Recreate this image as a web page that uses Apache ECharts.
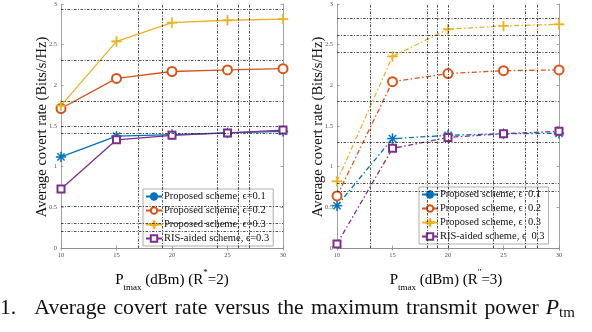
<!DOCTYPE html>
<html>
<head>
<meta charset="utf-8">
<script src="https://cdn.jsdelivr.net/npm/echarts@6/dist/echarts.min.js"></script>
<style>
html, body { margin: 0; padding: 0; background: #fff; }
#chart { width: 592px; height: 332px; }
</style>
</head>
<body>
<div id="chart"></div>
<script>
// transmit power levels (dBm)
const powerLevels = [10, 15, 20, 25, 30];

// left panel, R* = 2
const namesR2 = ['Proposed scheme, ϵ=0.1', 'Proposed scheme, ϵ=0.2', 'Proposed scheme, ϵ=0.3', 'RIS-aided scheme, ϵ=0.3'];
const rate01R2 = [1.12, 1.375, 1.395, 1.415, 1.435];
const rate02R2 = [1.715, 2.085, 2.17, 2.19, 2.205];
const rate03R2 = [1.75, 2.54, 2.77, 2.80, 2.815];
const rateRisR2 = [0.725, 1.33, 1.385, 1.415, 1.45];

// right panel, R** = 3
const namesR3 = ['Proposed scheme, ϵ  0.1', 'Proposed scheme, ϵ  0.2', 'Proposed scheme, ϵ  0.3', 'RIS-aided scheme, ϵ  0.3'];
const rate01R3 = [0.52, 1.345, 1.385, 1.405, 1.41];
const rate02R3 = [0.64, 2.045, 2.145, 2.18, 2.19];
const rate03R3 = [0.82, 2.355, 2.69, 2.73, 2.75];
const rateRisR3 = [0.05, 1.225, 1.36, 1.405, 1.435];

// the odd dotted grid lines of the original figure
const gridXR2 = [17, 19.1, 24.1, 26, 27];
const gridYR2 = [2.93, 2.31, 1.81, 1.5, 1.41, 0.51, 0.30, 0.20];
const gridXR3 = [13, 18.1, 19, 20.05, 24.05, 27, 28];
const gridYR3 = [2.82, 2.61, 2.41, 1.81, 1.30, 0.80, 0.70];

const colors = ['#0072BD', '#D95319', '#EDB120', '#7E2F8E'];
const serif = '"Liberation Serif", "DejaVu Serif", serif';

const asterisk = 'path://M-0.5,-5L0.5,-5L0.5,5L-0.5,5Z M-5,-0.5L5,-0.5L5,0.5L-5,0.5Z ' +
    'M-3.15,-3.85L3.85,3.15L3.15,3.85L-3.85,-3.15Z M-3.85,3.15L3.15,-3.85L3.85,-3.15L-3.15,3.85Z';
const plus = 'path://M-0.6,-5L0.6,-5L0.6,5L-0.6,5Z M-5,-0.6L5,-0.6L5,0.6L-5,0.6Z';
const symbols = [asterisk, 'emptyCircle', plus, 'emptyRect'];
const symbolSizes = [10, 9, 10, 7];
const symbolBorders = [0.5, 1.2, 0.6, 1.2];

const chart = echarts.init(document.getElementById('chart'));

function axesFor(gridIndex) {
    const boxLine = { show: true, lineStyle: { color: '#8c8c8c', width: 0.8 } };
    const tick = { show: true, inside: true, length: 2.5, lineStyle: { color: '#8c8c8c', width: 0.8 } };
    const label = { fontFamily: serif, fontSize: 6.5, color: '#555' };
    return {
        x: [
            { type: 'value', gridIndex, min: 10, max: 30, interval: 5, position: 'bottom',
              axisLine: boxLine, axisTick: tick, splitLine: { show: false },
              axisLabel: Object.assign({ margin: 4 }, label) },
            { type: 'value', gridIndex, min: 10, max: 30, interval: 5, position: 'top',
              axisLine: boxLine, axisTick: tick, splitLine: { show: false }, axisLabel: { show: false } }
        ],
        y: [
            { type: 'value', gridIndex, min: 0, max: 3, interval: 0.5, position: 'left',
              axisLine: boxLine, axisTick: tick, splitLine: { show: false },
              axisLabel: Object.assign({ margin: 4 }, label) },
            { type: 'value', gridIndex, min: 0, max: 3, interval: 0.5, position: 'right',
              axisLine: boxLine, axisTick: tick, splitLine: { show: false }, axisLabel: { show: false } }
        ]
    };
}

const axL = axesFor(0);
const axR = axesFor(1);

function gridSeries(axisIdx, xs, ys) {
    return {
        type: 'line', xAxisIndex: axisIdx, yAxisIndex: axisIdx, silent: true, z: 1,
        data: [[10, 0], [30, 0]], symbol: 'none', lineStyle: { opacity: 0 },
        markLine: {
            silent: true, symbol: ['none', 'none'], animation: false, label: { show: false },
            lineStyle: { color: '#222', width: 0.8, type: [2.5, 1.5, 1, 1.5] },
            data: xs.map(v => ({ xAxis: v })).concat(ys.map(v => ({ yAxis: v })))
        }
    };
}

function dataSeries(axisIdx, names, sets, dash) {
    return sets.map((vals, i) => ({
        name: names[i], type: 'line', xAxisIndex: axisIdx, yAxisIndex: axisIdx, z: 3,
        data: powerLevels.map((p, k) => [p, vals[k]]),
        symbol: symbols[i], symbolSize: symbolSizes[i], symbolKeepAspect: true,
        color: colors[i],
        itemStyle: { color: colors[i], borderColor: colors[i], borderWidth: symbolBorders[i] },
        lineStyle: { color: colors[i], width: 1.3, type: dash },
        animation: false
    }));
}

function legendFor(names, left, top) {
    return {
        data: names, orient: 'vertical', left, top,
        itemWidth: 16, itemHeight: 8, itemGap: 3, padding: [2, 4, 2, 2],
        backgroundColor: '#fff', borderColor: '#999', borderWidth: 0.8,
        selectedMode: false,
        textStyle: { fontFamily: serif, fontSize: 10.5, color: '#111', lineHeight: 10, padding: [0, 0, 0, -3] }
    };
}

const xTitleRich = {
    a: { fontFamily: serif, fontSize: 15, color: '#111', lineHeight: 24 },
    sub: { fontFamily: serif, fontSize: 9, color: '#111', lineHeight: 9, verticalAlign: 'bottom' },
    sup: { fontFamily: serif, fontSize: 9, color: '#111', lineHeight: 9, verticalAlign: 'top' }
};

const sp = '\u2004';
const captionText = ['1.\u2002', 'Average', 'covert', 'rate', 'versus', 'the', 'maximum', 'transmit', 'power', ''].join(sp);

const option = {
    animation: false,
    backgroundColor: '#fff',
    grid: [
        { left: 61, top: 4, width: 222, height: 244 },
        { left: 337, top: 4, width: 222, height: 244 }
    ],
    xAxis: axL.x.concat(axR.x.map(a => Object.assign({}, a, { gridIndex: 1 }))),
    yAxis: axL.y.concat(axR.y.map(a => Object.assign({}, a, { gridIndex: 1 }))),
    legend: [legendFor(namesR2, 143, 189), legendFor(namesR3, 419, 187)],
    series: [
        gridSeries(0, gridXR2, gridYR2),
        gridSeries(2, gridXR3, gridYR3)
    ]
        .concat(dataSeries(0, namesR2, [rate01R2, rate02R2, rate03R2, rateRisR2], 'solid'))
        .concat(dataSeries(2, namesR3, [rate01R3, rate02R3, rate03R3, rateRisR3], [5, 2.5, 1.5, 2.5])),
    graphic: [
        { type: 'text', x: 42, y: 127, rotation: Math.PI / 2,
          style: { text: 'Average covert rate (Bits/s/Hz)', fontFamily: serif, fontSize: 14.5,
                   fill: '#111', align: 'center', verticalAlign: 'middle' } },
        { type: 'text', x: 318, y: 127, rotation: Math.PI / 2,
          style: { text: 'Average covert rate (Bits/s/Hz)', fontFamily: serif, fontSize: 14.5,
                   fill: '#111', align: 'center', verticalAlign: 'middle' } },
        { type: 'text', x: 172, y: 280,
          style: { text: '{a|P}{sub|tmax}{a| (dBm) (R}{sup|*}{a|=2)}', rich: xTitleRich,
                   align: 'center', verticalAlign: 'middle' } },
        { type: 'text', x: 446, y: 280,
          style: { text: '{a|P}{sub|tmax}{a| (dBm) (R}{sup|″}{a|=3)}', rich: xTitleRich,
                   align: 'center', verticalAlign: 'middle' } },
        { type: 'text', x: 0, y: 308,
          style: {
              text: '{a|' + captionText + '}{i|P}{s|tm}',
              rich: {
                  a: { fontFamily: serif, fontSize: 21.7, fill: '#111', lineHeight: 26 },
                  i: { fontFamily: serif, fontSize: 21.7, fontStyle: 'italic', fill: '#111', lineHeight: 26 },
                  s: { fontFamily: serif, fontSize: 15, fill: '#111', lineHeight: 14, verticalAlign: 'bottom' }
              },
              align: 'left', verticalAlign: 'middle'
          } }
    ]
};

chart.setOption(option);
</script>
</body>
</html>
